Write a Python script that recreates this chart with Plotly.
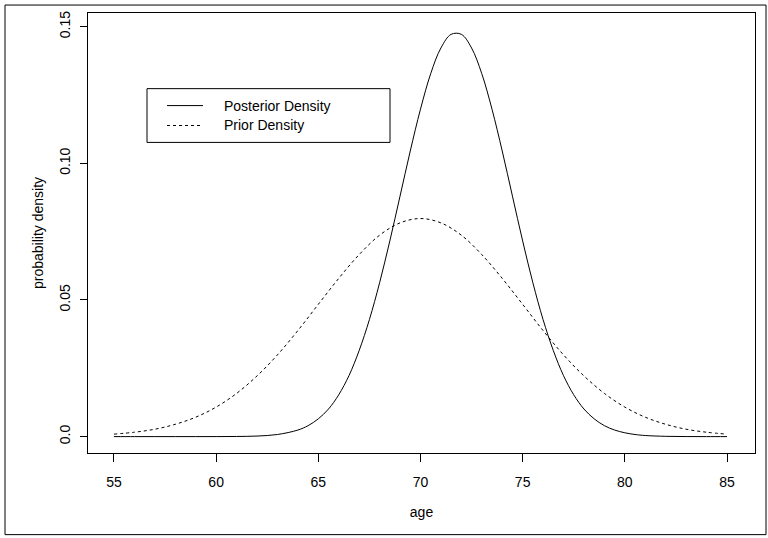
import plotly.graph_objects as go

# Posterior density (solid)
post_age = [55, 56, 57, 58, 59, 60, 61, 62, 63, 64, 64.5, 65, 65.5, 66, 66.5, 67, 67.5,
            68, 68.5, 69, 69.5, 70, 70.5, 71, 71.5, 72, 72.5, 73, 73.5, 74, 74.5, 75,
            75.5, 76, 76.5, 77, 77.5, 78, 78.5, 79, 79.5, 80, 80.5, 81, 82, 83, 84, 85]
post_dens = [0.0, 0.0, 0.0, 0.0, 0.0, 0.00001, 0.00005, 0.0002, 0.00077, 0.0024, 0.0040,
             0.0065, 0.0101, 0.0153, 0.0223, 0.0315, 0.0428, 0.0563, 0.0716, 0.0880,
             0.1045, 0.1198, 0.1328, 0.1422, 0.1472, 0.1472, 0.1422, 0.1328, 0.1198,
             0.1045, 0.0880, 0.0716, 0.0563, 0.0428, 0.0315, 0.0223, 0.0153, 0.0101,
             0.0065, 0.0040, 0.0024, 0.0014, 0.00077, 0.0004, 0.0001, 0.00002, 0.0, 0.0]

# Prior density (dotted)
prior_age = [55, 56, 57, 58, 59, 60, 61, 62, 63, 64, 65, 66, 67, 68, 69, 70,
             71, 72, 73, 74, 75, 76, 77, 78, 79, 80, 81, 82, 83, 84, 85]
prior_dens = [0.0009, 0.0016, 0.0027, 0.0045, 0.0071, 0.0108, 0.0158, 0.0222, 0.0299,
              0.0388, 0.0484, 0.0579, 0.0666, 0.0737, 0.0782, 0.0798, 0.0782, 0.0737,
              0.0666, 0.0579, 0.0484, 0.0388, 0.0299, 0.0222, 0.0158, 0.0108, 0.0071,
              0.0045, 0.0027, 0.0016, 0.0009]

x_ticks = [55, 60, 65, 70, 75, 80, 85]
y_ticks = [0.0, 0.05, 0.10, 0.15]
y_tick_text = ["0.0", "0.05", "0.10", "0.15"]
legend_labels = ["Posterior Density", "Prior Density"]

W, H = 768, 538
L, R, T, B = 88, 13, 11, 85
pw, ph = W - L - R, H - T - B


def px(xp):
    return (xp - L) / pw


def py(yp):
    return (H - B - yp) / ph


font = dict(family="Liberation Sans, Arial, sans-serif", size=14, color="black")

fig = go.Figure()
fig.add_trace(go.Scatter(x=post_age, y=post_dens, mode="lines",
                         line=dict(color="black", width=1, shape="spline"),
                         name=legend_labels[0], showlegend=False))
fig.add_trace(go.Scatter(x=prior_age, y=prior_dens, mode="lines",
                         line=dict(color="black", width=1, dash="dot", shape="spline"),
                         name=legend_labels[1], showlegend=False))

shapes = [
    # legend box
    dict(type="rect", xref="paper", yref="paper", x0=px(147), x1=px(390),
         y0=py(141), y1=py(87), line=dict(color="black", width=1)),
    dict(type="line", xref="paper", yref="paper", x0=px(167), x1=px(203),
         y0=py(104), y1=py(104), line=dict(color="black", width=1)),
    dict(type="line", xref="paper", yref="paper", x0=px(167), x1=px(203),
         y0=py(124), y1=py(124), line=dict(color="black", width=1, dash="dot")),
    # outer frame
    dict(type="rect", xref="paper", yref="paper", x0=px(5), x1=px(766),
         y0=py(535), y1=py(3), line=dict(color="black", width=1)),
]
annotations = [
    dict(xref="paper", yref="paper", x=px(222), y=py(104), text=legend_labels[0],
         showarrow=False, xanchor="left", yanchor="middle", font=font),
    dict(xref="paper", yref="paper", x=px(222), y=py(124), text=legend_labels[1],
         showarrow=False, xanchor="left", yanchor="middle", font=font),
]

fig.update_layout(
    width=W, height=H,
    margin=dict(l=L, r=R, t=T, b=B),
    paper_bgcolor="white", plot_bgcolor="white",
    font=font,
    shapes=shapes, annotations=annotations,
    showlegend=False,
)
fig.update_xaxes(range=[53.73, 86.37], tickvals=x_ticks, ticks="outside", ticklen=8,
                 tickcolor="black", showline=True, linecolor="black", linewidth=1,
                 mirror=True, showgrid=False, zeroline=False, tickfont=font,
                 ticklabelstandoff=8,
                 title=dict(text="age", font=font, standoff=18))
fig.update_yaxes(range=[-0.006, 0.155], tickvals=y_ticks, ticktext=y_tick_text,
                 ticks="outside", ticklen=7, tickcolor="black", tickangle=-90,
                 showline=True, linecolor="black", linewidth=1, mirror=True,
                 showgrid=False, zeroline=False, tickfont=font,
                 ticklabelstandoff=4,
                 title=dict(text="probability density", font=font, standoff=10))

fig.write_html("out.html")
